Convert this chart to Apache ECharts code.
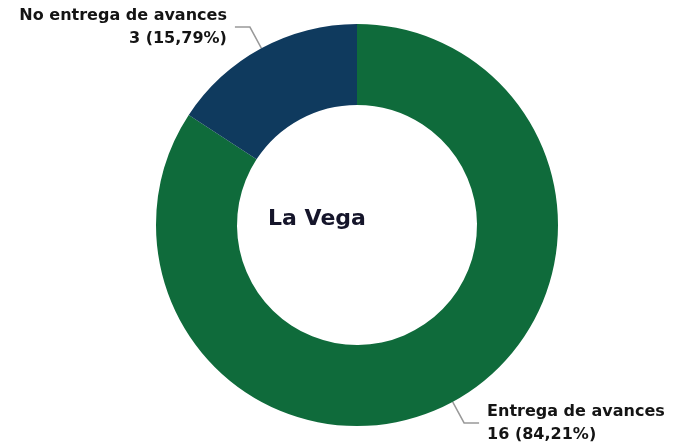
<!DOCTYPE html>
<html>
<head>
<meta charset="utf-8">
<script src="https://cdn.jsdelivr.net/npm/echarts@6/dist/echarts.min.js"></script>
<style>
  html, body { margin: 0; padding: 0; background: #fff; }
  #main { width: 684px; height: 447px; }
</style>
</head>
<body>
<div id="main"></div>
<script>
// datos del grafico
const categories = ['Entrega de avances', 'No entrega de avances']
const values = [16, 3]
const colors = ['#0f6b3b', '#0f3a5e']
const centerLabel = 'La Vega'

const total = values.reduce((a, b) => a + b, 0)
const chart = echarts.init(document.getElementById('main'))

const option = {
  backgroundColor: '#fff',
  textStyle: { fontFamily: 'DejaVu Sans' },
  graphic: [
    {
      type: 'text',
      x: 317,
      y: 219,
      style: {
        text: centerLabel,
        fontFamily: 'DejaVu Sans',
        fontWeight: 'bold',
        fontSize: 22,
        fill: '#15152a',
        textAlign: 'center',
        textVerticalAlign: 'middle'
      }
    }
  ],
  series: [
    {
      type: 'pie',
      center: [357, 225],
      radius: [120, 201],
      startAngle: 90,
      clockwise: true,
      avoidLabelOverlap: false,
      data: categories.map((name, i) => ({
        name: name,
        value: values[i],
        itemStyle: { color: colors[i] }
      })),
      label: {
        show: true,
        position: 'outside',
        fontFamily: 'DejaVu Sans',
        fontWeight: 'bold',
        fontSize: 16,
        lineHeight: 23,
        color: '#141414',
        distanceToLabelLine: 8,
        formatter: function (p) {
          const pct = (p.value / total * 100).toFixed(2).replace('.', ',')
          return p.name + '\n' + p.value + ' (' + pct + '%)'
        }
      },
      labelLine: {
        show: true,
        length: 24,
        length2: 15,
        lineStyle: { color: '#999999', width: 1.5 }
      },
      emphasis: { disabled: true }
    }
  ]
}
chart.setOption(option)
</script>
</body>
</html>
